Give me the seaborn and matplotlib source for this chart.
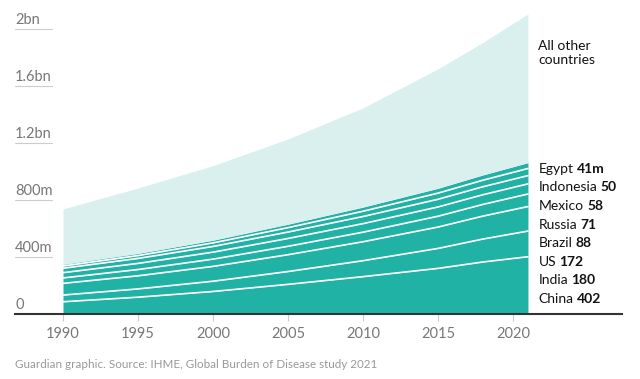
import numpy as np
import pandas as pd
import matplotlib
matplotlib.use("Agg")
import matplotlib.pyplot as plt
import seaborn as sns

# Data (millions of adults)
years = [1990, 1995, 2000, 2005, 2010, 2015, 2018, 2021]
china = [86, 118, 158, 208, 262, 320, 365, 402]
india = [47, 58, 72, 90, 112, 140, 161, 180]
us = [82, 92, 104, 118, 133, 150, 161, 172]
brazil = [38, 44, 51, 59, 67, 76, 82, 88]
russia = [37, 43, 49, 55, 60, 65, 68, 71]
mexico = [31, 35, 40, 45, 50, 54, 56, 58]
indonesia = [16, 20, 25, 31, 37, 43, 46, 50]
egypt = [12, 15, 19, 24, 29, 34, 37, 41]
all_other = [388, 459, 523, 598, 696, 838, 930, 1043]

countries = ["China", "India", "US", "Brazil", "Russia", "Mexico", "Indonesia", "Egypt"]
label_values = ["402", "180", "172", "88", "71", "58", "50", "41m"]
ytick_values = [0, 400, 800, 1200, 1600, 2000]
ytick_labels = ["0", "400m", "800m", "1.2bn", "1.6bn", "2bn"]
xtick_values = [1990, 1995, 2000, 2005, 2010, 2015, 2020]

df = pd.DataFrame({"year": years, "China": china, "India": india, "US": us,
                   "Brazil": brazil, "Russia": russia, "Mexico": mexico,
                   "Indonesia": indonesia, "Egypt": egypt, "All other": all_other})
cum = df[countries + ["All other"]].cumsum(axis=1)

# Style
sns.set_theme(style="white")
plt.rcParams['font.family'] = ['Lato', 'DejaVu Sans']

TEAL = "#21b2a6"
LIGHT = "#d9f0ee"
GREY = "#777777"
DARK = "#121212"

fig = plt.figure(figsize=(6.4, 3.79), dpi=100)
ax = fig.add_axes([15 / 640, 1 - 314 / 379, 607 / 640, 314 / 379])
ax.set_xlim(1986.8, 2027.27)
ax.set_ylim(0, 2203)

# Stacked areas
prev = np.zeros(len(years))
for name in countries:
    ax.fill_between(df["year"], prev, cum[name], color=TEAL, lw=0)
    prev = cum[name].values
ax.fill_between(df["year"], prev, cum["All other"], color=LIGHT, lw=0)

# White separators between country layers
lines = pd.DataFrame({"year": years * 7,
                      "value": np.concatenate([cum[c].values for c in countries[:-1]]),
                      "layer": np.repeat(countries[:-1], len(years))})
sns.lineplot(data=lines, x="year", y="value", units="layer", estimator=None,
             color="white", lw=1.2, ax=ax, legend=False)

# Y labels with short rules underneath
for v, lab in zip(ytick_values, ytick_labels):
    if v > 0:
        ax.axhline(v, xmin=0, xmax=37 / 607, color="#cccccc", lw=0.8)
    ax.text(1986.8, v + 12, lab, ha="left", va="bottom", fontsize=10.5, color=GREY)

# X axis
ax.set_xticks(xtick_values)
ax.set_xticklabels([str(x) for x in xtick_values], fontsize=10.5, color=GREY)
ax.tick_params(axis="x", bottom=True, length=5, width=0.8, color="#cccccc", pad=4)
ax.set_yticks([])
for s in ["top", "right", "left"]:
    ax.spines[s].set_visible(False)
ax.spines["bottom"].set_color("#333333")
ax.spines["bottom"].set_linewidth(1.5)
ax.set_xlabel("")
ax.set_ylabel("")

# Right-hand labels
label_x = 2021.7
label_y = np.linspace(105, 1018, len(countries))
for name, val, y in zip(countries, label_values, label_y):
    t = ax.text(label_x, y, name, ha="left", va="center", fontsize=10, color=DARK)
    ax.annotate(val, xy=(1, 0.5), xycoords=t, xytext=(2.5, 0), textcoords="offset points",
                ha="left", va="center", fontsize=10, fontweight="bold", color=DARK)
ax.text(label_x, 1832, "All other\ncountries", ha="left", va="center", fontsize=10,
        color=DARK, linespacing=1.25)

fig.text(15 / 640, 1 - 365 / 379, "Guardian graphic. Source: IHME, Global Burden of Disease study 2021",
         ha="left", va="center", fontsize=8.4, color="#999999")

fig.savefig("out.png", dpi=100)
plt.close(fig)
